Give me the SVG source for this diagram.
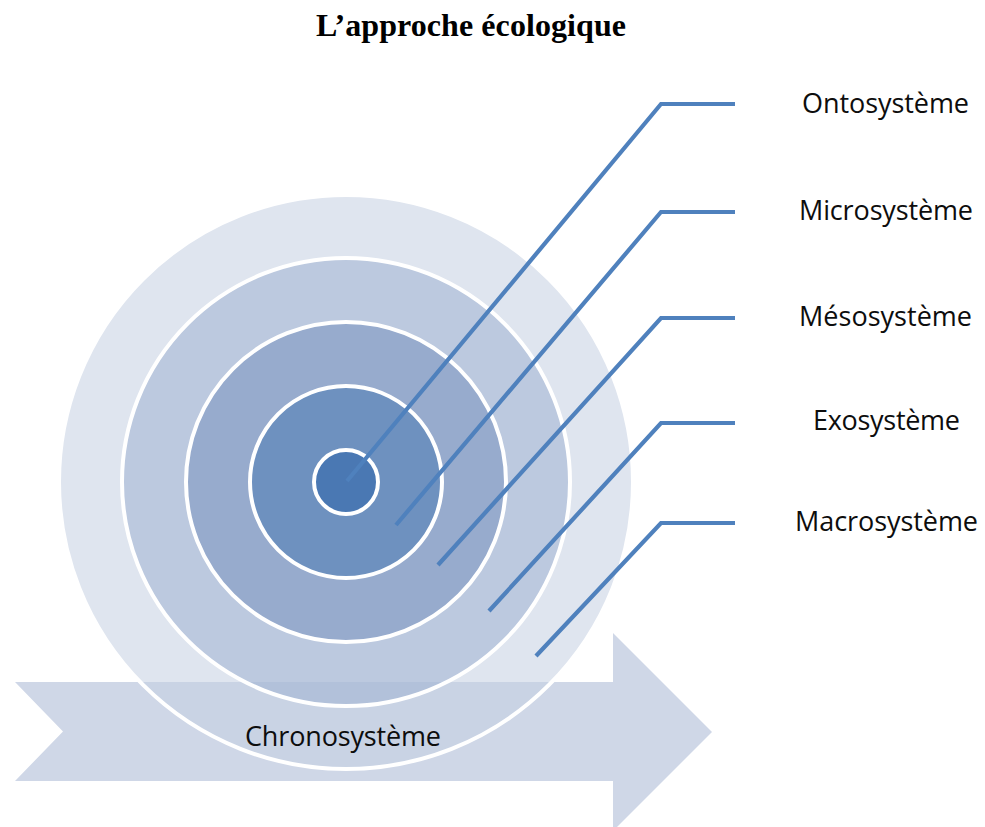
<svg xmlns="http://www.w3.org/2000/svg" width="985" height="827" viewBox="0 0 985 827">
  <style>
    .title { font-family: "Liberation Serif", "Times New Roman", serif; font-weight: bold; font-size: 32px; fill: #000; }
    .label { font-family: "Open Sans", "Noto Sans", "Liberation Sans", sans-serif; font-size: 27px; fill: #0d0d0d; }
    .ring { stroke: #ffffff; stroke-width: 4; fill-opacity: 0.55; }
    .leader { fill: none; stroke: #4f81bd; stroke-width: 4.2; stroke-linejoin: miter; }
  </style>

  <rect width="985" height="827" fill="#ffffff"/>

  <text class="title" x="471" y="36" text-anchor="middle" textLength="310">L’approche écologique</text>

  <!-- time arrow behind the system rings -->
  <g id="chronosysteme">
    <polygon points="15,682 613,682 613,633 712,732 613,831 613,781 15,781 63,731.5" fill="#cfd7e7"/>
  </g>

  <!-- nested systems, centred on the individual -->
  <g id="macrosysteme-ring">
    <circle class="ring" cx="346" cy="482" r="287" fill="rgb(197,208,226)"/>
  </g>
  <g id="exosysteme-ring">
    <circle class="ring" cx="346" cy="482" r="224" fill="rgb(159,178,210)"/>
  </g>
  <g id="mesosysteme-ring">
    <circle class="ring" cx="346" cy="482" r="160" fill="rgb(121,146,190)"/>
  </g>
  <g id="microsysteme-ring">
    <circle class="ring" cx="346" cy="482" r="96" fill="rgb(76,124,180)"/>
  </g>
  <g id="ontosysteme-ring">
    <circle class="ring" cx="346" cy="482" r="32" fill="rgb(45,101,169)"/>
  </g>

  <!-- leader lines from each ring to its label -->
  <g id="connectors">
    <polyline class="leader" points="347,481 661,104 735,104"/>
    <polyline class="leader" points="396,525 661,212 735,212"/>
    <polyline class="leader" points="438,565 661,318 735,318"/>
    <polyline class="leader" points="489,611 661,423 735,423"/>
    <polyline class="leader" points="536,656 661,523 735,523"/>
  </g>

  <g id="label-ontosysteme">
    <text class="label" x="885.5" y="113" text-anchor="middle" textLength="167">Ontosystème</text>
  </g>
  <g id="label-microsysteme">
    <text class="label" x="886" y="220" text-anchor="middle" textLength="174">Microsystème</text>
  </g>
  <g id="label-mesosysteme">
    <text class="label" x="885.5" y="326" text-anchor="middle" textLength="173">Mésosystème</text>
  </g>
  <g id="label-exosysteme">
    <text class="label" x="886.5" y="430" text-anchor="middle" textLength="147">Exosystème</text>
  </g>
  <g id="label-macrosysteme">
    <text class="label" x="886.5" y="531" text-anchor="middle" textLength="183">Macrosystème</text>
  </g>
  <g id="label-chronosysteme">
    <text class="label" x="343" y="746" text-anchor="middle" textLength="196">Chronosystème</text>
  </g>
</svg>
